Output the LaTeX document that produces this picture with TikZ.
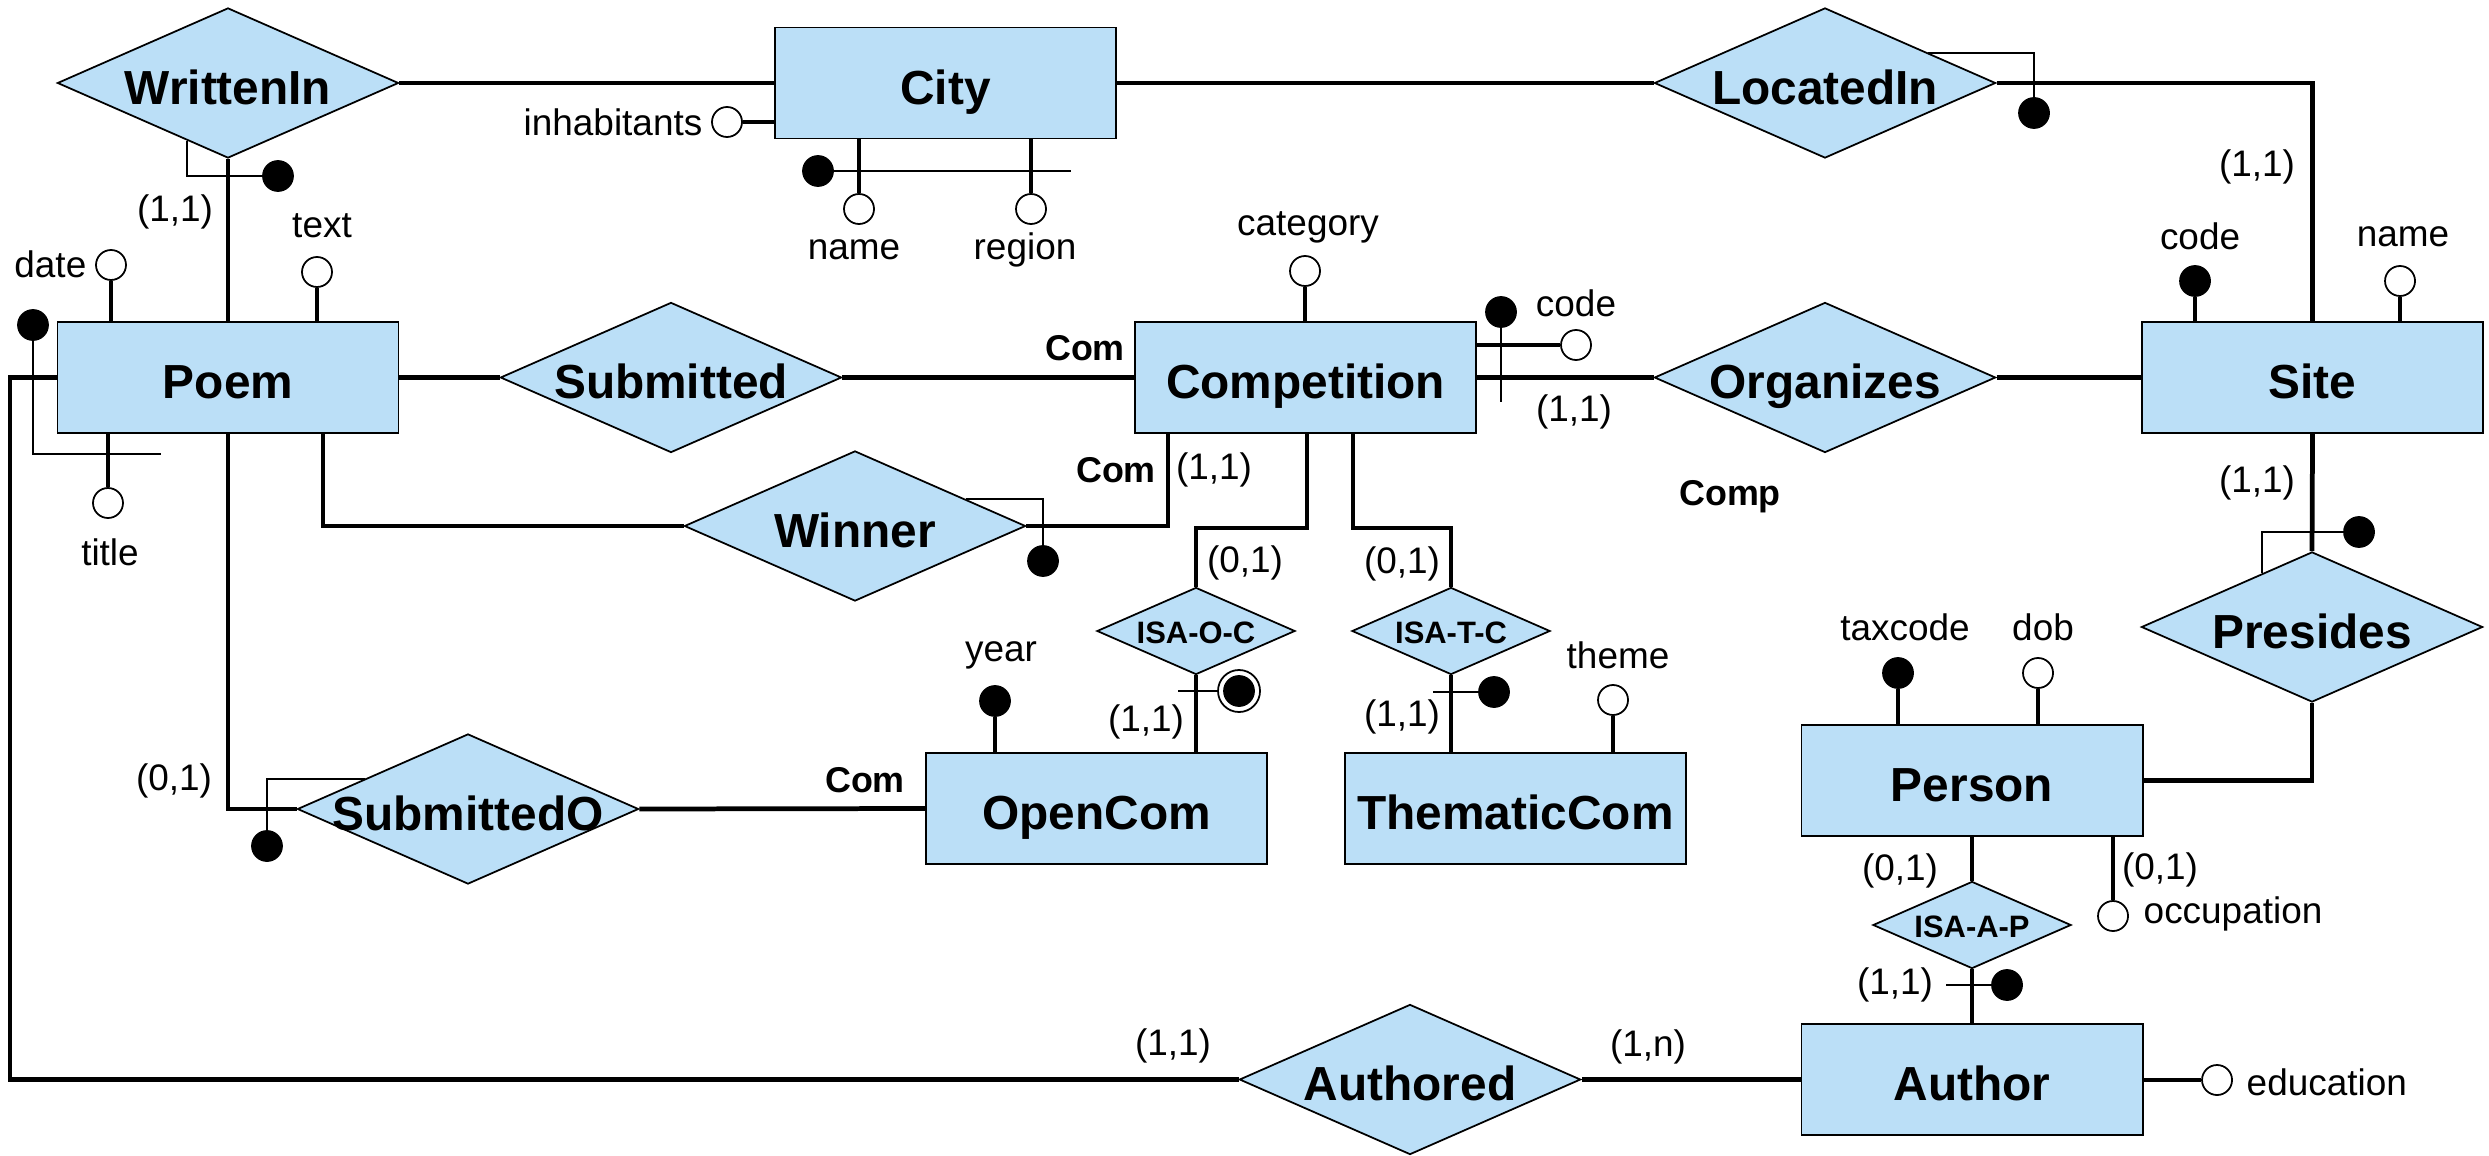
\documentclass[tikz,border=0pt]{standalone}
\usepackage{fontspec}
\setmainfont{Liberation Sans}
\usetikzlibrary{shapes.geometric,calc}
\definecolor{erblue}{RGB}{187,223,247}
\newcommand\dtext[1]{\makebox[0pt]{#1}}
\begin{document}
\begin{tikzpicture}[x=0.01cm,y=-0.01cm,
  entity/.style={draw, line width=0.5pt, fill=erblue, rectangle,
    minimum width=3.41cm, minimum height=1.11cm, inner sep=0pt,
    text height=0.423cm, text depth=0pt,
    font=\fontsize{13.6}{16}\selectfont\bfseries},
  rel/.style={draw, line width=0.5pt, fill=erblue, diamond,
    minimum width=3.41cm, minimum height=1.5cm, inner sep=0pt,
    text height=0.423cm, text depth=0pt,
    font=\fontsize{13.6}{16}\selectfont\bfseries},
  isa/.style={rel, minimum width=1.98cm, minimum height=0.87cm,
    text height=0.245cm, text depth=0pt,
    font=\fontsize{8.8}{10}\selectfont\bfseries},
  link/.style={line width=1.35pt},
  idline/.style={line width=0.55pt},
  attr/.style={circle, draw, line width=0.5pt, fill=white,
    minimum size=0.3cm, inner sep=0pt},
  key/.style={attr, fill=black},
  lbl/.style={font=\fontsize{10.5}{12}\selectfont, inner sep=0pt},
  role/.style={font=\fontsize{10.2}{12}\selectfont\bfseries, inner sep=0pt},
]
\useasboundingbox (0,0) rectangle (2489,1155);

% entities
\node[entity] (city)   at (945.5,83)    {City};
\node[entity] (poem)   at (228,377.5)   {Poem};
\node[entity] (comp)   at (1305.5,377.5){Competition};
\node[entity] (site)   at (2312.5,377.5){Site};
\node[entity] (open)   at (1096.5,808.5){OpenCom};
\node[entity] (them)   at (1515.5,808.5){ThematicCom};
\node[entity] (person) at (1972,780.5)  {Person};
\node[entity] (author) at (1972,1079.5) {Author};

% relationships
\node[rel] (written)   at (228,83)     {\dtext{WrittenIn}};
\node[rel] (located)   at (1825,83)    {\dtext{LocatedIn}};
\node[rel] (submitted) at (671,377.5)  {\dtext{Submitted}};
\node[rel] (winner)    at (855,526)    {\dtext{Winner}};
\node[rel] (organizes) at (1825,377.5) {\dtext{Organizes}};
\node[rel] (presides)  at (2312,627)   {\dtext{Presides}};
\node[rel] (subo)      at (468,809)    {\dtext{SubmittedO}};
\node[rel] (authored)  at (1410,1079.5){\dtext{Authored}};
\node[isa] (isaoc)     at (1196,631)   {\dtext{ISA-O-C}};
\node[isa] (isatc)     at (1451,631)   {\dtext{ISA-T-C}};
\node[isa] (isaap)     at (1972,925)   {\dtext{ISA-A-P}};

% relationship connectors
\coordinate (bend) at (10,1079.5);
\draw[link] (written.east) -- (city.west);
\draw[link] (written.south) -- (poem.north);
\draw[link] (city.east) -- (located.west);
\draw[link] (located.east) -| (site.north);
\draw[link] (poem.east) -- (submitted.west);
\draw[link] (submitted.east) -- (comp.west);
\draw[link] (comp.east) -- (organizes.west);
\draw[link] (organizes.east) -- (site.west);
\draw[link] ($(poem.south)+(95,0)$) |- (winner.west);
\draw[link] (winner.east) -| ($(comp.south)+(-137.5,0)$);
\draw[link] (poem.south) |- (subo.west);
\draw[link] (subo.east) -- (open.west);
\draw[link] ($(comp.south)+(1.5,0)$) -- ++(0,94) -| (isaoc.north);
\draw[link] ($(comp.south)+(47.5,0)$) -- ++(0,94) -| (isatc.north);
\draw[link] (isaoc.south) -- (isaoc.south |- open.north);
\draw[link] (isatc.south) -- (isatc.south |- them.north);
\draw[link] (site.south) -- (presides.north);
\draw[link] (presides.south) |- (person.east);
\draw[link] (person.south) -- (isaap.north);
\draw[link] (isaap.south) -- (author.north);
\draw[link] (author.west) -- (authored.east);
\draw[link] (poem.west) -| (bend) -- (authored.west);

% Poem attributes
\node[attr] (adate)  at (111,265) {};
\node[attr] (atext)  at (317,272) {};
\node[attr] (atitle) at (108,503) {};
\node[key]  (kpoem)  at (33,325)  {};
\coordinate (kpoemend) at (161,454);
\draw[link] (adate) -- (adate |- poem.north);
\draw[link] (atext) -- (atext |- poem.north);
\draw[link] (atitle) -- (atitle |- poem.south);
\draw[idline] (kpoem) |- (kpoemend);
\node[lbl, anchor=east] (tdate) at (87,264) {date};
\node[lbl] (ttext)  at (322,226) {text};
\node[lbl] (ttitle) at (110,552) {title};

% City attributes
\node[attr] (ainh)    at (727,122)  {};
\node[attr] (acname)  at (859,209)  {};
\node[attr] (aregion) at (1031,209) {};
\node[key]  (kcity)   at (818,171)  {};
\coordinate (kcityend) at (1071,171);
\draw[link] (ainh) -- (ainh -| city.west);
\draw[link] (acname) -- (acname |- city.south);
\draw[link] (aregion) -- (aregion |- city.south);
\draw[idline] (kcity) -- (kcityend);
\node[lbl, anchor=east] (tinh) at (703,122) {inhabitants};
\node[lbl] (tcname)  at (854,250)  {name};
\node[lbl] (tregion) at (1025,250) {region};

% Competition attributes
\node[attr] (acat)   at (1305,271) {};
\node[attr] (accode) at (1576,345) {};
\node[key]  (kcomp)  at (1501,312) {};
\coordinate (kcompend) at (1501,402);
\draw[link] (acat) -- (acat |- comp.north);
\draw[link] (accode) -- (accode -| comp.east);
\draw[idline] (kcomp) -- (kcompend);
\node[lbl] (tcat)   at (1308,227) {category};
\node[lbl] (tccode) at (1576,303) {code};

% Site attributes
\node[key]  (kscode) at (2195,281) {};
\node[attr] (asname) at (2400,281) {};
\draw[link] (kscode) -- (kscode |- site.north);
\draw[link] (asname) -- (asname |- site.north);
\node[lbl] (tscode) at (2200,236) {code};
\node[lbl] (tsname) at (2403,237) {name};

% OpenCom and ThematicCom attributes
\node[key]  (kyear)  at (995,701)  {};
\node[attr] (atheme) at (1613,700) {};
\draw[link] (kyear) -- (kyear |- open.north);
\draw[link] (atheme) -- (atheme |- them.north);
\node[lbl] (tyear)  at (1001,655) {year};
\node[lbl] (ttheme) at (1618,655) {theme};

% Person attributes
\node[key]  (ktax) at (1898,673) {};
\node[attr] (adob) at (2038,673) {};
\node[attr] (aocc) at (2113,916) {};
\draw[link] (ktax) -- (ktax |- person.north);
\draw[link] (adob) -- (adob |- person.north);
\draw[link] (aocc) -- (aocc |- person.south);
\node[lbl] (ttax) at (1905,627) {taxcode};
\node[lbl] (tdob) at (2043,627) {dob};
\node[lbl, anchor=west] (tocc) at (2143,914) {occupation};

% Author attributes
\node[attr] (aedu) at (2217,1080) {};
\draw[link] (aedu) -- (aedu -| author.east);
\node[lbl, anchor=west] (tedu) at (2246,1082) {education};

% external identifiers
\node[key] (mwritten)  at (278,176)  {};
\node[key] (mlocated)  at (2034,113) {};
\node[key] (mwinner)   at (1043,561) {};
\node[key] (mpresides) at (2359,532) {};
\node[key] (msubo)     at (267,846)  {};
\draw[idline] ($(written.south)!0.24!(written.west)$) |- (mwritten);
\draw[idline] ($(located.north)!0.6!(located.east)$) -| (mlocated);
\draw[idline] ($(winner.north)!0.65!(winner.east)$) -| (mwinner);
\draw[idline] ($(presides.north)!0.29!(presides.west)$) |- (mpresides);
\draw[idline] ($(subo.north)!0.6!(subo.west)$) -| (msubo);

% generalisation identifiers
\node[key] (misaoc) at (1239,691) {};
\node[circle, draw, line width=0.5pt, minimum size=0.42cm, inner sep=0pt] (ringoc) at (1239,691) {};
\node[key] (misatc) at (1494,692) {};
\node[key] (misaap) at (2007,985) {};
\coordinate (soc) at (1178,691);
\coordinate (stc) at (1433,692);
\coordinate (sap) at (1946,985);
\draw[idline] (soc) -- (ringoc);
\draw[idline] (stc) -- (misatc);
\draw[idline] (sap) -- (misaap);

% cardinalities
\node[lbl] (c1)  at (175,212)   {(1,1)};
\node[lbl] (c2)  at (2257,167)  {(1,1)};
\node[lbl] (c3)  at (1214,470)  {(1,1)};
\node[lbl] (c4)  at (1574,412)  {(1,1)};
\node[lbl] (c5)  at (2257,483)  {(1,1)};
\node[lbl] (c6)  at (1245,563)  {(0,1)};
\node[lbl] (c7)  at (1402,564)  {(0,1)};
\node[lbl] (c8)  at (1146,722)  {(1,1)};
\node[lbl] (c9)  at (1402,717)  {(1,1)};
\node[lbl] (c10) at (174,781)   {(0,1)};
\node[lbl] (c11) at (1900,871)  {(0,1)};
\node[lbl] (c12) at (1895,985)  {(1,1)};
\node[lbl] (c13) at (2160,870)  {(0,1)};
\node[lbl] (c14) at (1173,1046) {(1,1)};
\node[lbl] (c15) at (1648,1047) {(1,n)};

% role names
\node[role] (r1) at (1085,348) {Com};
\node[role] (r2) at (1116,470) {Com};
\node[role] (r3) at (865,780)  {Com};
\node[role] (r4) at (1730,497) {Comp};
\end{tikzpicture}
\end{document}
